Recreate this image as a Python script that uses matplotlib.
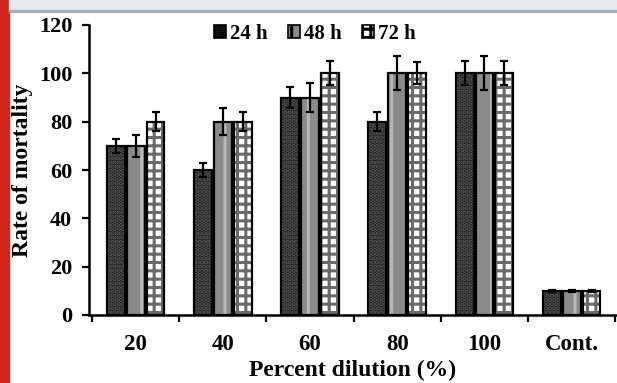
import numpy as np
import matplotlib
matplotlib.use("Agg")
import matplotlib.pyplot as plt
from matplotlib.patches import Rectangle, Patch

# data
categories = ["20", "40", "60", "80", "100", "Cont."]
series_names = ["24 h", "48 h", "72 h"]
mort_24 = [70, 60, 90, 80, 100, 10]
mort_48 = [70, 80, 90, 100, 100, 10]
mort_72 = [80, 80, 100, 100, 100, 10]
err_24 = [3, 3, 4.5, 4, 5, 0.5]
err_48 = [4.5, 5.5, 6, 7, 7, 0.5]
err_72 = [4, 4, 5, 4.5, 5, 0.5]

plt.rcParams["font.family"] = ["Liberation Serif", "DejaVu Serif"]
plt.rcParams["font.weight"] = "bold"
plt.rcParams["hatch.linewidth"] = 2.2

fig = plt.figure(figsize=(6.17, 3.83), dpi=100)

# page decoration: red strip on the left, light band on top
fig.patches.append(Rectangle((0, 0), 9 / 617, 1, transform=fig.transFigure,
                             color="#d3261b", zorder=0))
fig.patches.append(Rectangle((9 / 617, 1 - 10 / 383), 1, 10 / 383,
                             transform=fig.transFigure, color="#e5eaf0", zorder=0))
fig.patches.append(Rectangle((9 / 617, 1 - 12 / 383), 1, 2 / 383,
                             transform=fig.transFigure, color="#a9adb3", zorder=0))

ax = fig.add_axes([89 / 617, 1 - 315 / 383, 1 - 89 / 617, 290 / 383])

x = np.arange(len(categories))
w = 0.205
step = 0.228

styles = [
    dict(facecolor="#1c1c1c", hatch="....", hatch_col="#5a5a5a"),
    dict(facecolor="#8a8a8a", hatch="|", hatch_col="#b8b8b8"),
    dict(facecolor="white", hatch="++", hatch_col="#6a6a6a"),
]
values = [mort_24, mort_48, mort_72]
errors = [err_24, err_48, err_72]

handles = []
for i, (vals, errs, st) in enumerate(zip(values, errors, styles)):
    pos = x + (i - 1) * step
    ax.bar(pos, vals, width=w, color=st["facecolor"], edgecolor=st["hatch_col"],
           hatch=st["hatch"], linewidth=0, zorder=2)
    ax.bar(pos, vals, width=w, facecolor="none", edgecolor="black",
           linewidth=1.6, zorder=3)
    ax.errorbar(pos, vals, yerr=errs, fmt="none", ecolor="black",
                elinewidth=1.6, capsize=3, capthick=1.6, zorder=4)
    handles.append(Patch(facecolor=st["facecolor"], edgecolor="black",
                         hatch=st["hatch"], linewidth=1.2))

ax.set_ylim(0, 120)
ax.set_yticks(range(0, 121, 20))
ax.set_xlim(-0.535, 5.52)
ax.set_xticks(np.arange(-0.5, 6, 1))
ax.set_xticklabels([])
ax.set_xticks(x, minor=True)
ax.set_xticklabels(categories, minor=True)
ax.tick_params(axis="x", which="minor", length=0, pad=14, labelsize=16.5)
ax.tick_params(axis="x", which="major", length=5, width=1.6, direction="out")
ax.tick_params(axis="y", length=5, width=1.6, direction="out", labelsize=16, pad=7)

for side in ["top", "right"]:
    ax.spines[side].set_visible(False)
for side in ["left", "bottom"]:
    ax.spines[side].set_linewidth(1.8)

ax.set_xlabel("Percent dilution (%)", fontsize=17, fontweight="bold", labelpad=3)
ax.set_ylabel("Rate of mortality", fontsize=17, fontweight="bold", labelpad=4)

ax.legend(handles, series_names, loc="center", bbox_to_anchor=(0.428, 0.969),
          ncol=3, frameon=False, handlelength=0.55, handleheight=0.55,
          handletextpad=0.2, columnspacing=1.0, fontsize=15, borderpad=0)

fig.savefig("out.png", dpi=100)
plt.close(fig)
